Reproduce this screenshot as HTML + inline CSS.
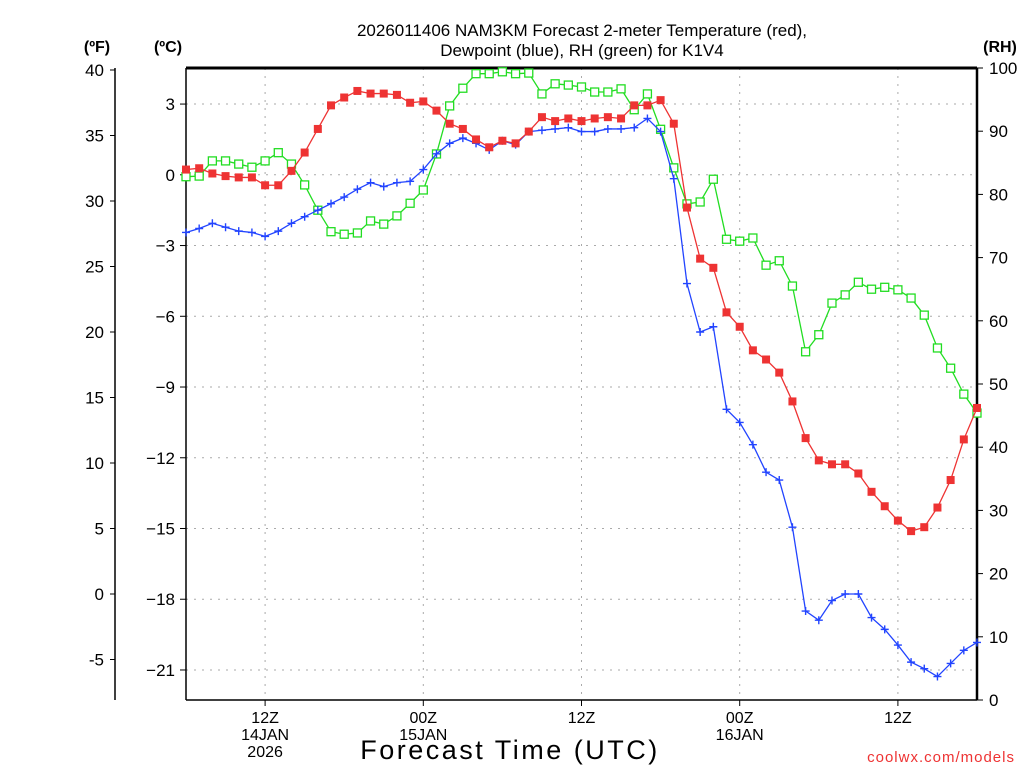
<!DOCTYPE html>
<html><head><meta charset="utf-8"><style>
body{margin:0;background:#fff;}
svg{display:block;font-family:"Liberation Sans",sans-serif;}
</style></head><body>
<svg id="chart" width="1024" height="768" viewBox="0 0 1024 768" xmlns="http://www.w3.org/2000/svg">
<rect width="1024" height="768" fill="#fff"/>
<text x="582" y="36" font-size="17" text-anchor="middle" fill="#000">2026011406 NAM3KM Forecast 2-meter Temperature (red),</text>
<text x="582" y="56" font-size="17" text-anchor="middle" fill="#000">Dewpoint (blue), RH (green) for K1V4</text>
<text x="97" y="52" font-size="16" font-weight="bold" text-anchor="middle">(ºF)</text>
<text x="168" y="52" font-size="16" font-weight="bold" text-anchor="middle">(ºC)</text>
<text x="1000" y="52" font-size="16" font-weight="bold" text-anchor="middle">(RH)</text>
<text x="510" y="759" font-size="27" text-anchor="middle" letter-spacing="2.5">Forecast Time (UTC)</text>
<text x="1015" y="762" font-size="15" text-anchor="end" fill="#e33" letter-spacing="1">coolwx.com/models</text>
<g id="grid"></g><g id="axes"></g><g id="series"></g>
</svg>
<script>
const hours = Array.from({length:61},(_,i)=>i);
const tempF = [32.4,32.5,32.1,31.9,31.8,31.8,31.2,31.2,32.3,33.7,35.5,37.3,37.9,38.4,38.2,38.2,38.1,37.5,37.6,36.9,35.9,
35.5,34.7,34.1,34.6,34.4,35.3,36.4,36.1,36.3,36.1,36.3,36.4,36.3,37.3,37.3,37.7,35.9,
29.5,25.6,24.9,21.5,20.4,18.6,17.9,16.9,14.7,11.9,10.2,9.9,9.9,9.2,7.8,6.7,5.6,4.8,5.1,6.6,8.7,11.8,14.2];
const dewF = [27.6,27.9,28.3,28.0,27.7,27.6,27.3,27.7,28.3,28.8,29.3,29.8,30.3,30.9,31.4,31.1,31.4,31.5,32.4,33.6,34.4,
34.8,34.4,33.9,34.6,34.3,35.3,35.4,35.5,35.6,35.3,35.3,35.5,35.5,35.6,36.3,35.3,31.7,
23.7,20.0,20.4,14.1,13.1,11.4,9.3,8.7,5.1,-1.3,-2.0,-0.5,0.0,0.0,-1.8,-2.7,-3.9,-5.2,-5.7,-6.3,-5.3,-4.3,-3.7];
const rh = [82.8,82.9,85.3,85.3,84.8,84.3,85.3,86.6,84.8,81.5,77.5,74.1,73.7,73.9,75.8,75.3,76.6,78.6,80.7,86.4,94.0,
96.8,99.1,99.1,99.4,99.1,99.2,95.9,97.5,97.3,97.0,96.2,96.2,96.7,93.4,95.9,90.3,84.2,
78.5,78.8,82.4,72.9,72.6,73.1,68.8,69.5,65.5,55.1,57.8,62.8,64.1,66.1,65.0,65.3,64.9,63.6,60.9,55.7,52.5,48.4,45.4];
const fTicks = [40,35,30,25,20,15,10,5,0,-5];
const cTicks = [3,0,-3,-6,-9,-12,-15,-18,-21];
const rhTicks = [0,10,20,30,40,50,60,70,80,90,100];
const timeTicks = [6,18,30,42,54];
const timeLabels = [["12Z","14JAN","2026"],["00Z","15JAN"],["12Z"],["00Z","16JAN"],["12Z"]];

const X0=186,X1=977,Y0=68,Y1=700;
const xs=h=>X0+(h/60)*(X1-X0);
const yF=f=>70+(40-f)*13.1;
const yC=c=>yF(32+1.8*c);
const yRH=r=>Y1-(r/100)*(Y1-Y0);
const NS="http://www.w3.org/2000/svg";
function mk(tag,attrs,parent,text){const e=document.createElementNS(NS,tag);for(const k in attrs)e.setAttribute(k,attrs[k]);if(text!==undefined)e.textContent=text;parent.appendChild(e);return e;}
const grid=document.getElementById('grid'),axes=document.getElementById('axes'),ser=document.getElementById('series');
cTicks.forEach(c=>{const y=yC(c);
 const g=mk('line',{x1:X0,x2:X1,y1:y,y2:y,stroke:'#aaa','stroke-dasharray':'2,6'},grid);
 
 
 mk('line',{x1:X0-6,x2:X0,y1:y,y2:y,stroke:'#000'},axes);
 const t=mk('text',{x:X0-11,y:y+6,'font-size':17,'text-anchor':'end'},axes,c<0?'\u2212'+(-c):String(c));
 
 });
timeTicks.forEach((h,i)=>{const x=xs(h);
 const g=mk('line',{x1:x,x2:x,y1:Y0,y2:Y1,stroke:'#aaa','stroke-dasharray':'2,6'},grid);
 
 
 mk('line',{x1:x,x2:x,y1:Y1,y2:Y1+6,stroke:'#000'},axes);
 timeLabels[i].forEach((s,j)=>{const t=mk('text',{x:x,y:723+j*17,'font-size':16,'text-anchor':'middle'},axes,s);
  
  });});
mk('line',{x1:115,x2:115,y1:68,y2:700,stroke:'#000','stroke-width':1.5},axes);
fTicks.forEach(f=>{const y=yF(f);
 mk('line',{x1:110,x2:115,y1:y,y2:y,stroke:'#000'},axes);
 const t=mk('text',{x:104,y:y+6,'font-size':17,'text-anchor':'end'},axes,String(f));
 
 });
rhTicks.forEach(r=>{const y=yRH(r);
 mk('line',{x1:X1,x2:X1+6,y1:y,y2:y,stroke:'#000'},axes);
 const t=mk('text',{x:989,y:y+6,'font-size':17},axes,String(r));
 
 });
mk('line',{x1:X0,x2:X0,y1:Y0,y2:Y1,stroke:'#000','stroke-width':1.5},axes);
mk('line',{x1:X0,x2:X1,y1:Y0,y2:Y0,stroke:'#000','stroke-width':3},axes);
mk('line',{x1:X1,x2:X1,y1:Y0,y2:Y1,stroke:'#000','stroke-width':2.5},axes);
mk('line',{x1:X0,x2:X1,y1:Y1,y2:Y1,stroke:'#000','stroke-width':1.5},axes);

function series(vals,yfn,color,marker,name){
 const g=mk('g',{},ser);
 
 
 mk('polyline',{points:vals.map((v,i)=>xs(hours[i])+','+yfn(v)).join(' '),fill:'none',stroke:color,'stroke-width':1.3},g);
 vals.forEach((v,i)=>{const x=xs(hours[i]),y=yfn(v);
  if(marker==='sq') mk('rect',{x:x-4,y:y-4,width:8,height:8,fill:color},g);
  else if(marker==='osq') mk('rect',{x:x-4,y:y-4,width:8,height:8,fill:'#fff',stroke:color,'stroke-width':1.3},g);
  else {mk('path',{d:`M${x-4},${y}H${x+4}M${x},${y-4}V${y+4}`,stroke:color,'stroke-width':1.4},g);}
 });
}
series(rh,yRH,'#22dd22','osq','rh-series');
series(dewF,yF,'#2244ff','plus','dewpoint-series');
series(tempF,yF,'#ee3333','sq','temperature-series');
</script>
</body></html>
